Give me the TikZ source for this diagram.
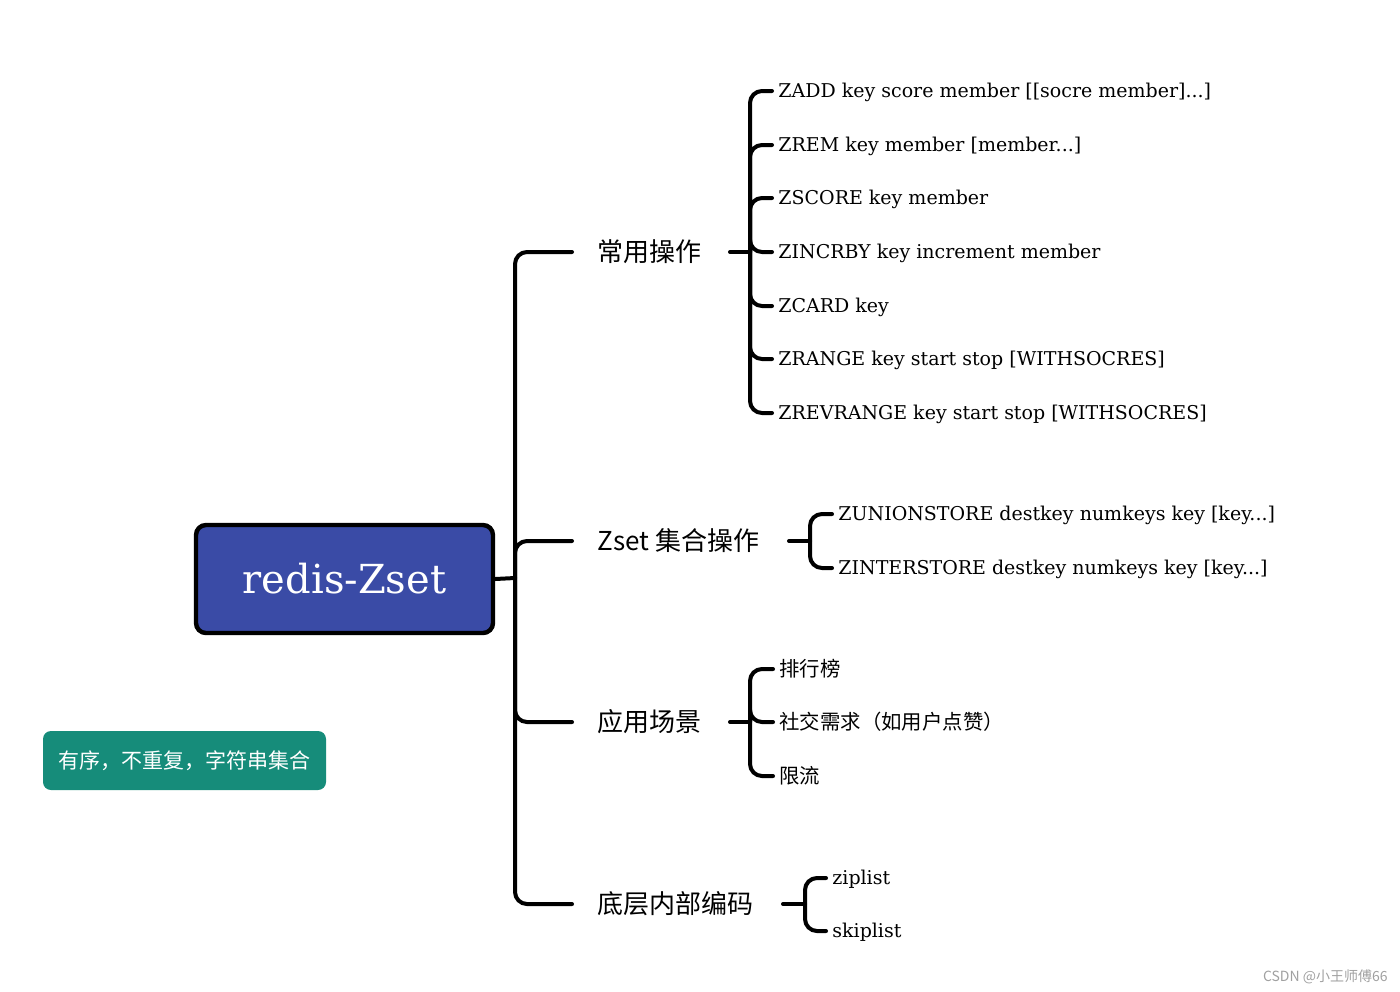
\documentclass[tikz,border=0pt]{standalone}
\usepackage{fontspec}
\setmainfont{DejaVu Serif}
\newfontfamily\cjk{Noto Sans CJK SC}
\definecolor{rootblue}{HTML}{3A4BA6}
\definecolor{noteteal}{HTML}{168C7A}
\definecolor{wmgray}{HTML}{A0A0A0}
\begin{document}
\begin{tikzpicture}[x=0.5pt,y=-0.5pt,
  link/.style={line width=2pt, line cap=round, rounded corners=6pt},
  stub/.style={line width=2pt, line cap=round},
  rootbox/.style={draw=black, line width=2.2pt, fill=rootblue, rounded corners=5pt,
    minimum width=148.5pt, minimum height=54pt, text=white,
    font=\fontsize{20pt}{24pt}\selectfont},
  lvone/.style={anchor=west, inner sep=0pt, font=\cjk\fontsize{13pt}{15pt}\selectfont},
  leaf/.style={anchor=west, inner sep=0pt, font=\fontsize{9.5pt}{12pt}\selectfont},
  cleaf/.style={anchor=west, inner sep=0pt, font=\cjk\fontsize{10.2pt}{12pt}\selectfont},
  notebox/.style={fill=noteteal, rounded corners=4pt, text=white,
    minimum width=141.5pt, minimum height=29.5pt, inner sep=0pt,
    font=\cjk\fontsize{10.5pt}{13pt}\selectfont},
  wm/.style={anchor=east, inner sep=0pt, text=wmgray, font=\cjk\fontsize{7pt}{8pt}\selectfont}
]
\useasboundingbox (0,0) rectangle (1400,991);

% root
\node[rootbox] (root) at (344.5,579) {redis-Zset};
\coordinate (J) at (515,578);

% level one
\node[lvone] (op)  at (597,252) {常用操作};
\node[lvone] (zs)  at (597,541) {Zset 集合操作};
\node[lvone] (app) at (597,722) {应用场景};
\node[lvone] (enc) at (597,904) {底层内部编码};

\draw[stub] (root.east) -- (J);
\foreach \n in {op,zs,app,enc}
  \draw[link] (J) |- ([xshift=-12.5pt]\n.west);

% commands
\node[leaf] (c1) at (778,92)  {ZADD key score member [[socre member]...]};
\node[leaf] (c2) at (778,146) {ZREM key member [member...]};
\node[leaf] (c3) at (778,199) {ZSCORE key member};
\node[leaf] (c4) at (778,253) {ZINCRBY key increment member};
\node[leaf] (c5) at (778,307) {ZCARD key};
\node[leaf] (c6) at (778,360) {ZRANGE key start stop [WITHSOCRES]};
\node[leaf] (c7) at (778,414) {ZREVRANGE key start stop [WITHSOCRES]};
\coordinate (opH) at (730,252);
\coordinate (opV) at (750,252);
\draw[stub] (opH) -- (opV);
\foreach \n in {c1,c2,c3,c4,c5,c6,c7}
  \draw[link] (opV) |- ([xshift=-3pt,yshift=0.5pt]\n.west);

% set operations
\node[leaf] (u1) at (838,515) {ZUNIONSTORE destkey numkeys key [key...]};
\node[leaf] (u2) at (838,569) {ZINTERSTORE destkey numkeys key [key...]};
\coordinate (zsH) at (789,541);
\coordinate (zsV) at (810,541);
\draw[stub] (zsH) -- (zsV);
\foreach \n in {u1,u2}
  \draw[link] (zsV) |- ([xshift=-3pt,yshift=0.5pt]\n.west);

% scenarios
\node[cleaf] (a1) at (779,669) {排行榜};
\node[cleaf] (a2) at (779,722) {社交需求（如用户点赞）};
\node[cleaf] (a3) at (779,776) {限流};
\coordinate (appH) at (730,722);
\coordinate (appV) at (750,722);
\draw[stub] (appH) -- (appV);
\foreach \n in {a1,a2,a3}
  \draw[link] (appV) |- ([xshift=-3pt]\n.west);

% encodings
\node[leaf] (e1) at (832,879) {ziplist};
\node[leaf] (e2) at (832,932) {skiplist};
\coordinate (encH) at (783,904);
\coordinate (encV) at (805,904);
\draw[stub] (encH) -- (encV);
\foreach \n in {e1,e2}
  \draw[link] (encV) |- ([xshift=-3pt,yshift=0.5pt]\n.west);

% note
\node[notebox] (note) at (184.5,760.5) {有序，不重复，字符串集合};

% watermark
\node[wm] (mark) at (1388,977) {CSDN @小王师傅66};
\end{tikzpicture}
\end{document}
